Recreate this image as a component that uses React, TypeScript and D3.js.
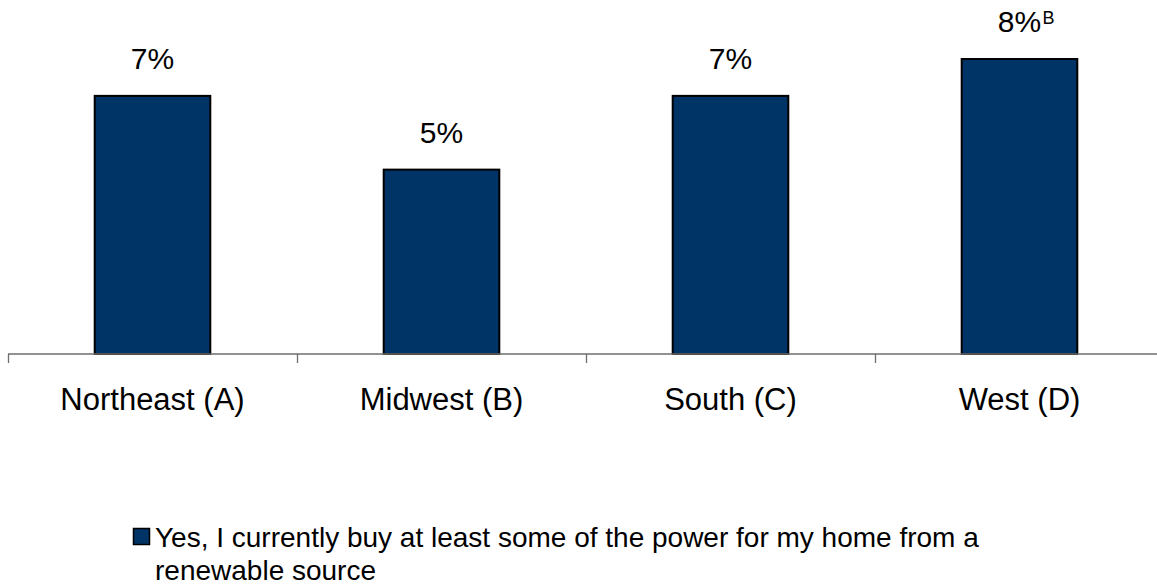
import React from "react";
import * as d3 from "d3";

const categories = ["Northeast (A)", "Midwest (B)", "South (C)", "West (D)"];
const values = [7, 5, 7, 8];
const valueLabels = ["7%", "5%", "7%", "8%"];
const superscripts = ["", "", "", "B"];
const legendLines = [
  "Yes, I currently buy at least some of the power for my home from a",
  "renewable source",
];

const W = 1157;
const H = 586;
const FONT = "'Liberation Sans', Arial, Helvetica, sans-serif";
const BAR_COLOR = "#003366";

export default function App() {
  const x = d3.scaleBand<string>().domain(categories).range([8, 1164]).paddingInner(0).paddingOuter(0);
  const y = d3.scaleLinear().domain([0, 8]).range([354, 59]);
  const bw = x.bandwidth() * 0.4;
  const ticks = categories.map((c) => x(c)!);

  return (
    <svg
      width={W}
      height={H}
      style={{ position: "absolute", left: 0, top: 0, background: "#fff" }}
      fontFamily={FONT}
    >
      {categories.map((c, i) => {
        const cx = x(c)! + x.bandwidth() / 2;
        return (
          <g key={c}>
            <rect
              x={cx - bw / 2}
              y={y(values[i])}
              width={bw}
              height={y(0) - y(values[i])}
              fill={BAR_COLOR}
              stroke="#000"
              strokeWidth={2}
            />
            <text x={cx} y={y(values[i]) - 27} textAnchor="middle" fontSize={30} fill="#000">
              {valueLabels[i]}
            </text>
            {superscripts[i] && (
              <text x={cx + 23} y={y(values[i]) - 35} textAnchor="start" fontSize={18} fill="#000">
                {superscripts[i]}
              </text>
            )}
            <text x={cx} y={410} textAnchor="middle" fontSize={31} fill="#000">
              {c}
            </text>
          </g>
        );
      })}
      <line x1={8} x2={W} y1={y(0)} y2={y(0)} stroke="#6e6e6e" strokeWidth={1.3} />
      {ticks.map((t, i) => (
        <line key={i} x1={t + 0.5} x2={t + 0.5} y1={y(0)} y2={y(0) + 9} stroke="#6e6e6e" strokeWidth={1.3} />
      ))}
      <rect x={133.5} y={528.5} width={16} height={16} fill={BAR_COLOR} stroke="#000" strokeWidth={1.5} />
      {legendLines.map((l, i) => (
        <text key={i} x={155} y={547 + i * 33} fontSize={28} fill="#000">
          {l}
        </text>
      ))}
    </svg>
  );
}
